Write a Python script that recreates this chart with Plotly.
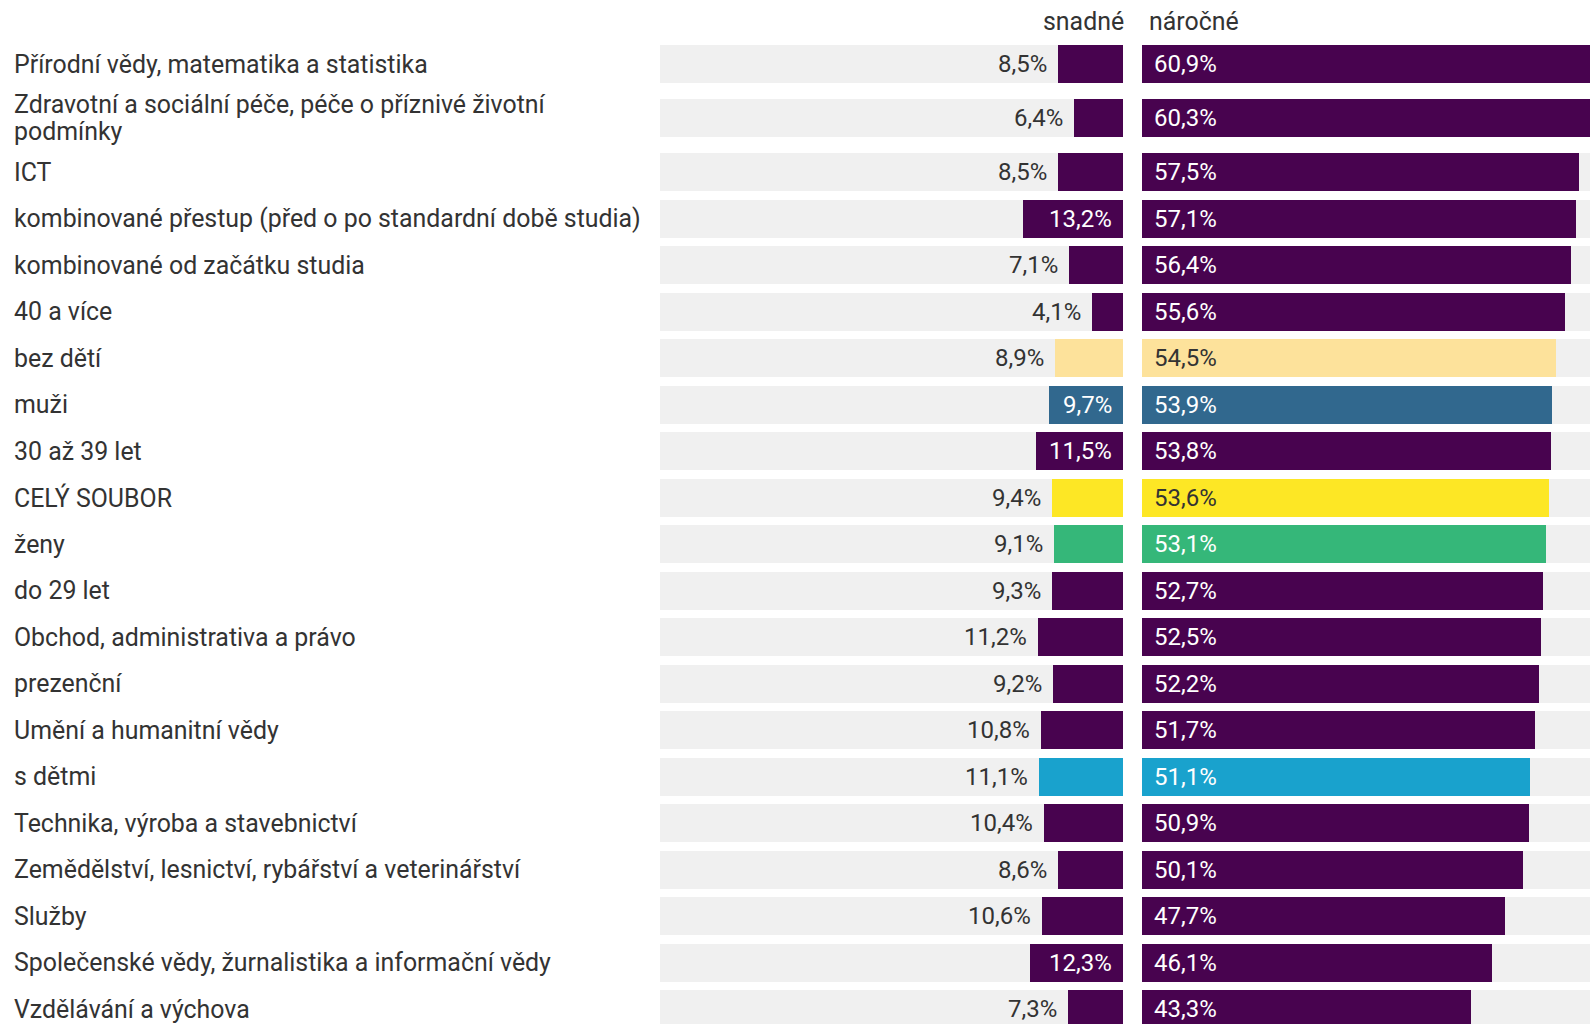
import plotly.graph_objects as go

# ---------------- data ----------------
categories = [
    "Přírodní vědy, matematika a statistika",
    "Zdravotní a sociální péče, péče o příznivé životní<br>podmínky",
    "ICT",
    "kombinované přestup (před o po standardní době studia)",
    "kombinované od začátku studia",
    "40 a více",
    "bez dětí",
    "muži",
    "30 až 39 let",
    "CELÝ SOUBOR",
    "ženy",
    "do 29 let",
    "Obchod, administrativa a právo",
    "prezenční",
    "Umění a humanitní vědy",
    "s dětmi",
    "Technika, výroba a stavebnictví",
    "Zemědělství, lesnictví, rybářství a veterinářství",
    "Služby",
    "Společenské vědy, žurnalistika a informační vědy",
    "Vzdělávání a výchova",
]
snadne = [8.5, 6.4, 8.5, 13.2, 7.1, 4.1, 8.9, 9.7, 11.5, 9.4, 9.1,
          9.3, 11.2, 9.2, 10.8, 11.1, 10.4, 8.6, 10.6, 12.3, 7.3]
narocne = [60.9, 60.3, 57.5, 57.1, 56.4, 55.6, 54.5, 53.9, 53.8, 53.6, 53.1,
           52.7, 52.5, 52.2, 51.7, 51.1, 50.9, 50.1, 47.7, 46.1, 43.3]
headers = ["snadné", "náročné"]

# ---------------- style ----------------
W, H = 1590, 1024
FONT = "Roboto"
FS = 24.9        # category labels / headers
FSV = 24         # value labels
TXT = "#333333"
BASE = "#48034f"
BG = "#f0f0f0"
highlight = {
    "bez dětí": "#fde29b",
    "muži": "#31688e",
    "CELÝ SOUBOR": "#fde725",
    "ženy": "#35b779",
    "s dětmi": "#19a2cd",
}
light = {"#fde29b", "#fde725"}
colors = [highlight.get(c, BASE) for c in categories]

PX = 7.6             # pixels per percentage point
L_END = 1123         # left panel base (zero) pixel
L_START = 650
R_START = 1142
BAR_H = 38
LINE_H = 27.4

# row positions (pixel-like units on the y axis); wrapped labels get extra room
pitch, extra = 46.5, 7.5
ypos = []
y = 64.0
for i, c in enumerate(categories):
    if i > 0:
        y += pitch + extra * (categories[i - 1].count("<br>") + c.count("<br>"))
    ypos.append(y)

vmax = max(max(snadne), max(narocne))


def fmt(v):
    return f"{v:.1f}".replace(".", ",") + "%"


def text_w(s):
    w = 0
    for ch in s:
        if ch.isdigit():
            w += 0.5615 * FSV
        elif ch == ",":
            w += 0.196 * FSV
        elif ch == "%":
            w += 0.733 * FSV
        else:
            w += 0.5 * FSV
    return w


fig = go.Figure()

# background bars
for ax in ("x", "x2"):
    fig.add_trace(go.Bar(y=ypos, x=[vmax] * len(categories), orientation="h",
                         width=BAR_H, marker=dict(color=BG, line_width=0),
                         xaxis=ax, yaxis="y", hoverinfo="skip", showlegend=False))
# value bars
fig.add_trace(go.Bar(y=ypos, x=snadne, orientation="h", width=BAR_H,
                     marker=dict(color=colors, line_width=0),
                     xaxis="x", yaxis="y", showlegend=False, name=headers[0],
                     customdata=categories, hovertemplate="%{customdata}: %{x}<extra></extra>"))
fig.add_trace(go.Bar(y=ypos, x=narocne, orientation="h", width=BAR_H,
                     marker=dict(color=colors, line_width=0),
                     xaxis="x2", yaxis="y", showlegend=False, name=headers[1],
                     customdata=categories, hovertemplate="%{customdata}: %{x}<extra></extra>"))

ann = []
# category labels (each line placed separately for tight line spacing)
for c, yy in zip(categories, ypos):
    lines = c.split("<br>")
    n = len(lines)
    for k, ln in enumerate(lines):
        ann.append(dict(text=ln, xref="paper", x=12 / W, xanchor="left", align="left",
                        yref="y", y=yy + (k - (n - 1) / 2) * LINE_H, yanchor="middle",
                        showarrow=False,
                        font=dict(family=FONT, size=FS, color=TXT)))
# left value labels
for v, yy, col in zip(snadne, ypos, colors):
    s = fmt(v)
    inside = v * PX >= text_w(s) + 23.5
    if inside:
        ann.append(dict(text=s, xref="x", x=0, xanchor="right", xshift=-9,
                        yref="y", y=yy, yanchor="middle", showarrow=False,
                        font=dict(family=FONT, size=FSV,
                                  color=TXT if col in light else "white")))
    else:
        ann.append(dict(text=s, xref="x", x=v, xanchor="right", xshift=-9,
                        yref="y", y=yy, yanchor="middle", showarrow=False,
                        font=dict(family=FONT, size=FSV, color=TXT)))
# right value labels
for v, yy, col in zip(narocne, ypos, colors):
    s = fmt(v)
    ann.append(dict(text=s, xref="x2", x=0, xanchor="left", xshift=10,
                    yref="y", y=yy, yanchor="middle", showarrow=False,
                    font=dict(family=FONT, size=FSV,
                              color=TXT if col in light else "white")))
# headers
ann.append(dict(text=headers[0], xref="paper", x=1126 / W, xanchor="right",
                yref="y", y=21, yanchor="middle", showarrow=False,
                font=dict(family=FONT, size=FS, color=TXT)))
ann.append(dict(text=headers[1], xref="paper", x=1147 / W, xanchor="left",
                yref="y", y=21, yanchor="middle", showarrow=False,
                font=dict(family=FONT, size=FS, color=TXT)))

fig.update_layout(
    width=W, height=H,
    margin=dict(l=0, r=0, t=0, b=0, pad=0),
    paper_bgcolor="white", plot_bgcolor="white",
    barmode="overlay", bargap=0,
    font=dict(family=FONT, size=FS, color=TXT),
    xaxis=dict(domain=[L_START / W, L_END / W],
               range=[(L_END - L_START) / PX, 0],
               visible=False, fixedrange=True),
    xaxis2=dict(domain=[R_START / W, 1.0],
                range=[0, (W - R_START) / PX],
                visible=False, fixedrange=True),
    yaxis=dict(domain=[0, 1], range=[H, 0], visible=False, fixedrange=True),
    annotations=ann,
)

fig.write_html("out.html",
               config={"displayModeBar": False},
               post_script="document.body.style.margin='0';document.body.style.overflow='hidden';")
